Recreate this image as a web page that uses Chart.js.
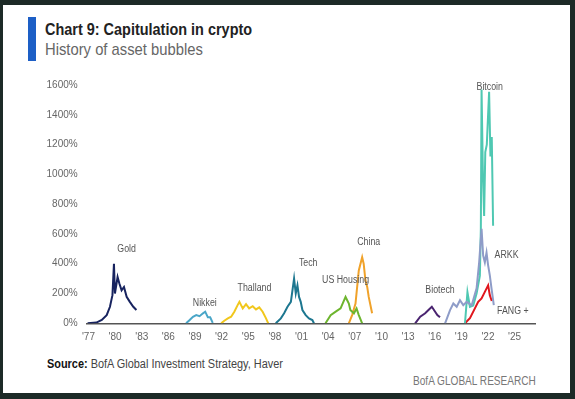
<!DOCTYPE html>
<html>
<head>
<meta charset="utf-8">
<script src="https://cdn.jsdelivr.net/npm/chart.js@4"></script>
<style>
  body { margin: 0; width: 575px; height: 399px; background: #1d2a27; overflow: hidden; }
  #panel { position: absolute; left: 3px; top: 5px; width: 567px; height: 388px; background: #fff; }
  #bar { position: absolute; left: 28px; top: 17px; width: 8px; height: 44px; background: #1d5fc6; }
  .t { position: absolute; font-family: "Liberation Sans", sans-serif; white-space: nowrap; transform-origin: 0 0; }
  #title { left: 45px; top: 20px; font-size: 17px; font-weight: bold; color: #222; transform: scaleX(0.85); }
  #sub { left: 45px; top: 40px; font-size: 17px; color: #666; transform: scaleX(0.87); }
  #source { left: 47px; top: 357px; font-size: 12px; color: #444; transform: scaleX(0.91); }
  #source b { color: #111; }
  #brand { left: 413px; top: 374px; font-size: 12px; color: #777; transform: scaleX(0.84); }
  #wrap { position: absolute; left: 20px; top: 70px; width: 530px; height: 280px; }
</style>
</head>
<body>
<div id="panel"></div>
<div id="bar"></div>
<div class="t" id="title">Chart 9: Capitulation in crypto</div>
<div class="t" id="sub">History of asset bubbles</div>
<div class="t" id="source"><b>Source:</b> BofA Global Investment Strategy, Haver</div>
<div class="t" id="brand">BofA GLOBAL RESEARCH</div>
<div id="wrap"><canvas id="myChart"></canvas></div>
<script>
// Axis ticks
let tickYears = [1977, 1980, 1983, 1986, 1989, 1992, 1995, 1998, 2001, 2004, 2007, 2010, 2013, 2016, 2019, 2022, 2025];

// Each bubble: years and % gain
let goldYears = [1976.9, 1977.9, 1978.5, 1979.05, 1979.42, 1979.7, 1979.87, 1979.98, 1980.28, 1980.48, 1980.73, 1981.0, 1981.3, 1981.66, 1982.05, 1982.4];
let goldValues = [0, 5, 22, 55, 111, 189, 400, 200, 311, 267, 222, 244, 178, 144, 111, 89];

let nikkeiYears = [1988.0, 1988.4, 1988.77, 1989.14, 1989.51, 1989.9, 1990.15, 1990.45, 1990.71, 1991.0];
let nikkeiValues = [0, 22, 44, 55, 48, 67, 78, 40, 40, 3];

let thailandYears = [1991.95, 1992.3, 1992.7, 1993.07, 1993.43, 1993.8, 1994.0, 1994.38, 1994.75, 1995.1, 1995.5, 1995.87, 1996.24, 1996.62, 1997.0, 1997.25];
let thailandValues = [0, 17, 33, 44, 78, 122, 144, 100, 129, 100, 115, 93, 107, 78, 33, 0];

let techYears = [1998.1, 1998.67, 1999.04, 1999.42, 1999.8, 2000.16, 2000.35, 2000.54, 2000.72, 2000.91, 2001.1, 2001.47, 2001.84, 2002.22, 2002.4];
let techValues = [0, 33, 67, 111, 144, 300, 200, 255, 177, 144, 89, 55, 33, 22, 0];

let housingYears = [2003.7, 2004.28, 2004.85, 2005.4, 2005.8, 2005.96, 2006.33, 2006.5, 2006.9, 2007.2, 2007.45, 2007.83];
let housingValues = [0, 55, 78, 100, 155, 177, 133, 89, 67, 100, 55, 0];

let chinaYears = [2006.33, 2006.7, 2007.08, 2007.45, 2007.83, 2008.0, 2008.2, 2008.4, 2008.57, 2008.95];
let chinaValues = [0, 55, 133, 355, 444, 400, 289, 244, 177, 67];

let biotechYears = [2013.8, 2014.37, 2014.93, 2015.3, 2015.68, 2016.05, 2016.3, 2016.6];
let biotechValues = [0, 44, 67, 89, 111, 78, 55, 40];

let arkkYears = [2017.17, 2017.73, 2018.1, 2018.48, 2018.85, 2019.22, 2019.6, 2020.16, 2020.72, 2021.01, 2021.28, 2021.46, 2021.65, 2021.84, 2022.02, 2022.21, 2022.4, 2022.66];
let arkkValues = [0, 89, 133, 111, 155, 122, 144, 120, 235, 409, 635, 455, 409, 475, 389, 322, 235, 122];

let bitcoinYears = [2019.41, 2019.69, 2019.86, 2019.97, 2020.34, 2020.72, 2021.09, 2021.2, 2021.28, 2021.43, 2021.57, 2021.7, 2021.87, 2022.13, 2022.28, 2022.43, 2022.58];
let bitcoinValues = [0, 210, 150, 110, 120, 200, 320, 635, 1570, 1000, 720, 1150, 1200, 1555, 1120, 1250, 655];

let fangYears = [2019.41, 2019.97, 2020.53, 2020.9, 2021.28, 2021.65, 2022.02, 2022.21, 2022.43];
let fangValues = [0, 35, 100, 144, 167, 211, 255, 189, 150];

// Series labels written next to each bubble
let labelNames = ['Gold', 'Nikkei', 'Thalland', 'Tech', 'US Housing', 'China', 'Biotech', 'ARKK', 'FANG +', 'Bitcoin'];
let labelYears = [1981.3, 1990.1, 1995.7, 2001.75, 2005.96, 2008.57, 2016.6, 2024.1, 2024.8, 2022.2];
let labelValues = [500, 137, 233, 400, 289, 544, 222, 455, 84, 1582];

function toPoints(xs, ys) {
    let pts = [];
    for (let i = 0; i < xs.length; i++) {
        pts.push({x: xs[i], y: ys[i]});
    }
    return pts;
}

function series(label, xs, ys, color) {
    return {
        label: label,
        data: toPoints(xs, ys),
        borderColor: color,
        backgroundColor: color,
        borderWidth: 2,
        pointRadius: 0,
        tension: 0
    };
}

let data = {
    datasets: [
        series('Gold', goldYears, goldValues, '#17235f'),
        series('Nikkei', nikkeiYears, nikkeiValues, '#4aa6c8'),
        series('Thailand', thailandYears, thailandValues, '#f1c71d'),
        series('Tech', techYears, techValues, '#1d7790'),
        series('US Housing', housingYears, housingValues, '#6db52e'),
        series('China', chinaYears, chinaValues, '#f0a22a'),
        series('Biotech', biotechYears, biotechValues, '#4a2470'),
        series('ARKK', arkkYears, arkkValues, '#8e9cc8'),
        series('Bitcoin', bitcoinYears, bitcoinValues, '#4fc8b2'),
        series('FANG+', fangYears, fangValues, '#e0161d')
    ]
};

// draws the bubble names, squeezed a bit like the condensed original font
const bubbleLabels = {
    id: 'bubbleLabels',
    afterDatasetsDraw(chart) {
        let ctx = chart.ctx;
        let xs = chart.scales.x;
        let ys = chart.scales.y;
        ctx.save();
        ctx.font = '10px "Liberation Sans", sans-serif';
        ctx.fillStyle = '#555';
        ctx.textAlign = 'center';
        ctx.textBaseline = 'middle';
        for (let i = 0; i < labelNames.length; i++) {
            let px = xs.getPixelForValue(labelYears[i]);
            let py = ys.getPixelForValue(labelValues[i]);
            ctx.save();
            ctx.translate(px, py);
            ctx.scale(0.88, 1);
            ctx.fillText(labelNames[i], 0, 0);
            ctx.restore();
        }
        ctx.restore();
    }
};

const config = {
    type: 'line',
    data: data,
    plugins: [bubbleLabels],
    options: {
        responsive: true,
        maintainAspectRatio: false,
        animation: false,
        layout: { padding: { top: 11, right: 15, left: 0, bottom: 0 } },
        plugins: { legend: { display: false }, tooltip: { enabled: false } },
        scales: {
            x: {
                type: 'linear',
                min: 1976.8,
                max: 2027.3,
                grid: { display: false, drawTicks: false },
                border: { display: true, color: '#555', width: 1.5 },
                afterBuildTicks: (scale) => { scale.ticks = tickYears.map(v => ({value: v})); },
                afterFit: (scale) => { scale.height = 26.7; },
                ticks: {
                    padding: 8,
                    maxRotation: 0,
                    autoSkip: false,
                    color: '#666',
                    font: { family: '"Liberation Sans", sans-serif', size: 10 },
                    callback: (v) => "'" + String(v).slice(2)
                }
            },
            y: {
                min: 0,
                max: 1600,
                grid: { display: false, drawTicks: false },
                border: { display: false },
                afterFit: (scale) => { scale.width = 66.7; },
                ticks: {
                    stepSize: 200,
                    padding: 9,
                    color: '#666',
                    font: { family: '"Liberation Sans", sans-serif', size: 10 },
                    callback: (v) => v + '%'
                }
            }
        }
    }
};

const theChart = new Chart(document.getElementById('myChart'), config);
</script>
</body>
</html>
